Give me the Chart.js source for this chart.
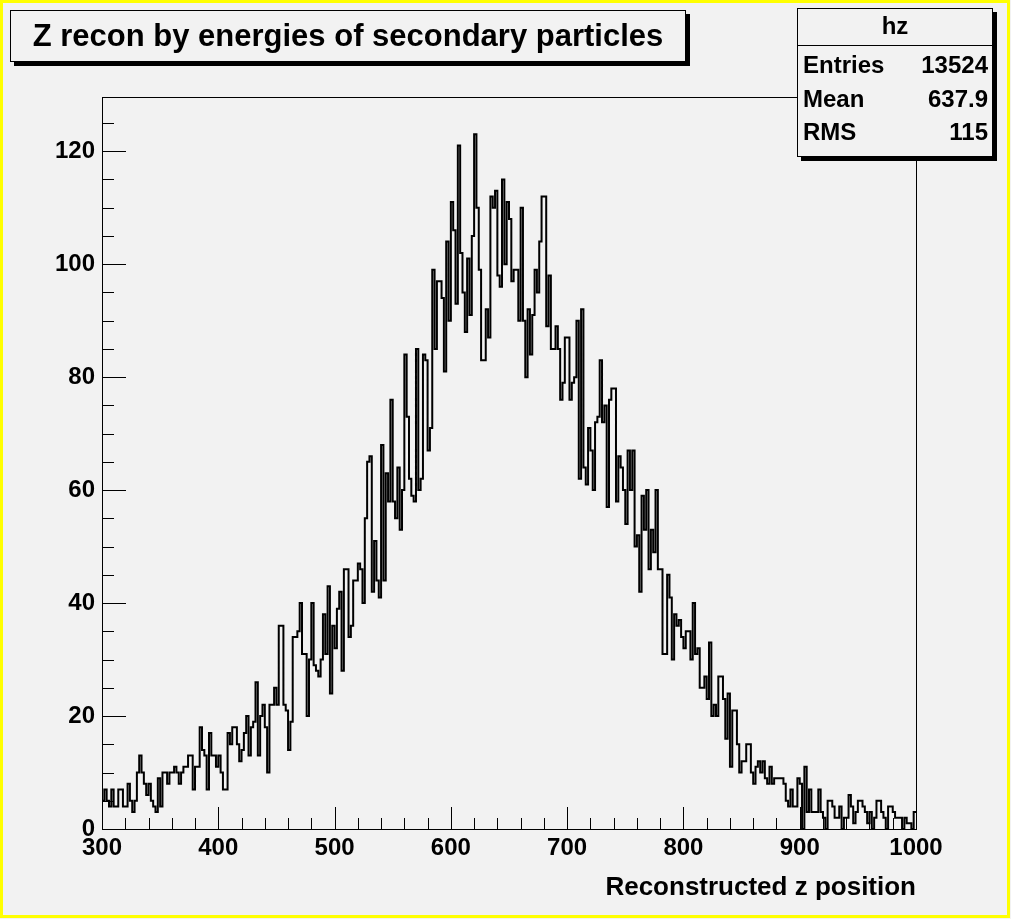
<!DOCTYPE html>
<html>
<head>
<meta charset="utf-8">
<script src="https://cdn.jsdelivr.net/npm/chart.js@4.4.1/dist/chart.umd.min.js"></script>
<style>
  html, body { margin: 0; padding: 0; background: #f2f2f2; }
  canvas { display: block; }
</style>
</head>
<body>
<canvas id="hz" width="1011" height="919"></canvas>
<script>
// histogram "hz": 350 bins of width 2 from 300 to 1000
const binLow = 300;
const binWidth = 2;
const counts = [
  5, 7, 5, 4, 7, 4, 4, 7, 7, 4,
  4, 8, 5, 3, 5, 10, 13, 10, 8, 6,
  8, 5, 4, 3, 9, 4, 10, 10, 8, 10,
  10, 11, 10, 8, 10, 11, 11, 13, 13, 7,
  11, 11, 18, 14, 13, 7, 17, 13, 13, 11,
  13, 10, 7, 7, 17, 15, 18, 18, 15, 12,
  14, 17, 20, 13, 18, 19, 26, 13, 20, 22,
  18, 10, 22, 22, 25, 22, 36, 36, 22, 21,
  14, 19, 34, 34, 35, 40, 31, 31, 20, 30,
  40, 29, 28, 27, 30, 38, 31, 43, 24, 36,
  32, 39, 42, 28, 46, 46, 34, 36, 44, 44,
  47, 46, 40, 55, 65, 66, 42, 51, 44, 41,
  68, 44, 63, 58, 76, 58, 55, 64, 53, 60,
  84, 73, 62, 59, 58, 85, 60, 62, 84, 83,
  67, 71, 99, 85, 97, 97, 94, 81, 104, 90,
  111, 106, 93, 121, 102, 95, 88, 101, 91, 105,
  123, 110, 99, 83, 83, 92, 87, 112, 110, 113,
  98, 96, 115, 100, 111, 108, 97, 99, 99, 90,
  110, 90, 80, 92, 84, 91, 99, 95, 104, 112,
  112, 89, 98, 85, 85, 89, 85, 76, 79, 87,
  87, 76, 79, 80, 90, 62, 92, 64, 61, 71,
  67, 60, 72, 73, 83, 72, 75, 57, 76, 78,
  78, 58, 66, 64, 60, 54, 67, 60, 67, 50,
  52, 42, 59, 53, 60, 46, 53, 49, 60, 46,
  46, 31, 31, 45, 41, 30, 38, 36, 37, 34,
  32, 35, 35, 30, 40, 31, 32, 25, 25, 27,
  23, 33, 20, 22, 20, 27, 27, 23, 16, 24,
  11, 21, 21, 15, 10, 12, 12, 15, 15, 10,
  8, 11, 12, 10, 12, 9, 8, 11, 8, 9,
  9, 9, 9, 8, 5, 4, 7, 4, 4, 9,
  8, 0, 11, 3, 7, 3, 3, 3, 7, 3,
  2, 0, 5, 5, 4, 2, 2, 4, 0, 2,
  2, 6, 4, 1, 3, 5, 5, 4, 3, 1,
  3, 0, 2, 5, 5, 3, 2, 0, 4, 4,
  3, 2, 2, 2, 0, 2, 1, 1, 0, 3
];
const xRange = [300, 1000];
const yRange = [0, 129.6];
const xMajor = 100, xMinor = 20;
const yMajor = 20, yMinor = 5;

const titleText = 'Z recon by energies of secondary particles';
const xTitle = 'Reconstructed z position';
const statsName = 'hz';
const statsLabels = ['Entries', 'Mean', 'RMS'];
const statsValues = ['13524', '637.9', '115'];

const FONT = '"Liberation Sans", Arial, Helvetica, sans-serif';

// step outline: each bin's left edge, plus the right edge of the last bin
const points = counts.map((c, i) => ({ x: binLow + i * binWidth, y: c }));
points.push({ x: binLow + counts.length * binWidth, y: counts[counts.length - 1] });

const rootStyle = {
  id: 'rootStyle',
  beforeDraw(chart) {
    const c = chart.ctx;
    c.save();
    c.fillStyle = '#f2f2f2';
    c.fillRect(0, 0, chart.width, chart.height);
    c.restore();
  },
  afterDraw(chart) {
    const c = chart.ctx;
    const { left, right, top, bottom } = chart.chartArea;
    const xs = chart.scales.x;
    const ys = chart.scales.y;
    c.save();

    // frame
    c.strokeStyle = '#000';
    c.lineWidth = 1;
    c.strokeRect(left + 0.5, top + 0.5, right - left, bottom - top);

    // inward tick marks
    c.beginPath();
    for (let v = yRange[0]; v <= ys.max; v += yMinor) {
      const py = Math.round(ys.getPixelForValue(v)) + 0.5;
      const len = v % yMajor === 0 ? 24 : 12;
      c.moveTo(left, py);
      c.lineTo(left + len, py);
    }
    for (let v = xRange[0]; v <= xRange[1]; v += xMinor) {
      const px = Math.round(xs.getPixelForValue(v)) + 0.5;
      const len = v % xMajor === 0 ? 22 : 11;
      c.moveTo(px, bottom);
      c.lineTo(px, bottom - len);
    }
    c.stroke();

    // title pave with shadow
    c.fillStyle = '#000';
    c.fillRect(14, 14, 676, 52);
    c.fillStyle = '#f2f2f2';
    c.fillRect(10, 10, 676, 52);
    c.strokeRect(10.5, 10.5, 675, 51);
    c.fillStyle = '#000';
    c.font = 'bold 31px ' + FONT;
    c.textAlign = 'center';
    c.textBaseline = 'middle';
    c.fillText(titleText, 348, 37);

    // stats box with shadow
    c.fillRect(801, 12, 196, 149);
    c.fillStyle = '#f2f2f2';
    c.fillRect(797, 8, 196, 149);
    c.strokeRect(797.5, 8.5, 195, 148);
    c.beginPath();
    c.moveTo(797, 45.5);
    c.lineTo(993, 45.5);
    c.stroke();
    c.fillStyle = '#000';
    c.font = 'bold 24px ' + FONT;
    c.textAlign = 'center';
    c.fillText(statsName, 895, 27);
    const rowY = [66, 100, 133];
    statsLabels.forEach((lab, i) => {
      c.textAlign = 'left';
      c.fillText(lab, 803, rowY[i]);
      c.textAlign = 'right';
      c.fillText(statsValues[i], 988, rowY[i]);
    });

    // yellow canvas border
    c.strokeStyle = '#ffff00';
    c.lineWidth = 3;
    c.strokeRect(1.5, 1.5, chart.width - 4, chart.height - 4);
    c.restore();
  }
};

const ctx = document.getElementById('hz').getContext('2d');
new Chart(ctx, {
  type: 'line',
  data: {
    datasets: [{
      data: points,
      stepped: true,
      borderColor: '#000',
      borderWidth: 2,
      pointRadius: 0,
      fill: false
    }]
  },
  options: {
    responsive: false,
    animation: false,
    layout: { padding: { left: 0, top: 97, right: 95, bottom: 16 } },
    plugins: { legend: { display: false }, tooltip: { enabled: false } },
    scales: {
      x: {
        type: 'linear',
        min: xRange[0],
        max: xRange[1],
        grid: { display: false, drawTicks: false },
        border: { display: false },
        ticks: {
          stepSize: xMajor,
          autoSkip: false,
          maxRotation: 0,
          padding: 5,
          color: '#000',
          font: { family: FONT, size: 24, weight: 'bold' },
          callback: v => String(v)
        },
        title: {
          display: true,
          text: xTitle,
          align: 'end',
          padding: 0,
          color: '#000',
          font: { family: FONT, size: 26, weight: 'bold' }
        },
        afterFit(scale) { scale.height = 74; }
      },
      y: {
        min: yRange[0],
        max: yRange[1],
        grid: { display: false, drawTicks: false },
        border: { display: false },
        ticks: {
          stepSize: yMajor,
          includeBounds: false,
          padding: 7,
          color: '#000',
          font: { family: FONT, size: 24, weight: 'bold' },
          callback: v => String(v)
        },
        afterFit(scale) { scale.width = 102; }
      }
    }
  },
  plugins: [rootStyle]
});
</script>
</body>
</html>
